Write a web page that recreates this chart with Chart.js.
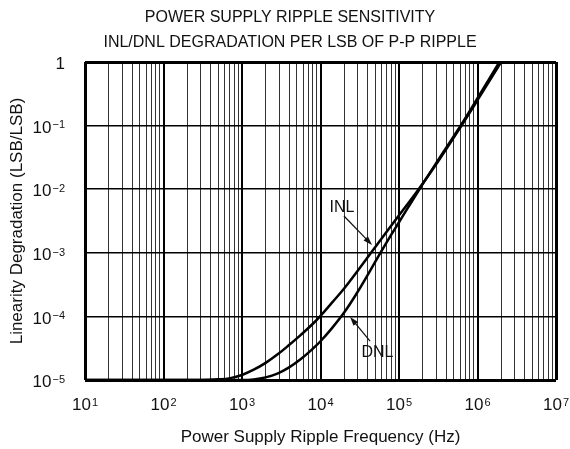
<!doctype html>
<html lang="en">
<head>
<meta charset="UTF-8">
<title>Power Supply Ripple Sensitivity</title>
<style>
  html, body { margin: 0; padding: 0; background: #fff; }
</style>
</head>
<body>
<canvas id="myChart" width="570" height="449"></canvas>
<script src="https://cdn.jsdelivr.net/npm/chart.js"></script>
<script>
// values (Hz -> LSB/LSB)
const inlFreq = [10, 100, 316, 500, 710, 1000, 1410, 2000, 2820, 3980, 5620, 7940, 1e4, 14100, 2e4, 28200, 41700, 63100, 1e5, 1.78e5, 3.16e5, 6.03e5, 1e6, 2e6];
const inlValues = [1e-5, 1e-5, 1e-5, 1.023e-5, 1.07e-5, 1.2e-5, 1.45e-5, 1.86e-5, 2.51e-5, 3.55e-5, 5.13e-5, 7.59e-5, 1.02e-4, 1.66e-4, 2.75e-4, 4.79e-4, 9.12e-4, 1.82e-3, 3.89e-3, 1.0e-2, 2.75e-2, 9.33e-2, 0.251, 1.0];
const dnlFreq = [10, 100, 1000, 1410, 2000, 2820, 3980, 5620, 7940, 1e4, 14100, 2e4, 28200, 39800, 56200, 79400, 1e5, 1.78e5, 3.16e5, 6.03e5, 1e6, 1.9e6];
const dnlValues = [1e-5, 1e-5, 1e-5, 1.023e-5, 1.1e-5, 1.26e-5, 1.58e-5, 2.14e-5, 3.09e-5, 4.07e-5, 6.61e-5, 1.15e-4, 2.19e-4, 4.47e-4, 9.33e-4, 1.91e-3, 3.02e-3, 9.55e-3, 2.88e-2, 9.77e-2, 0.269, 1.0];

// tick labels are 10^n
const xExponents = [1, 2, 3, 4, 5, 6, 7];
const yExponents = [-5, -4, -3, -2, -1, 0];
const minorSteps = [2, 3, 4, 5, 6, 7, 8, 9];

// callout labels with arrows, in data units
const callouts = [
    {text: 'INL', at: [1.88e4, 5.15e-3], from: [1.99e4, 3.79e-3], to: [4.53e4, 1.33e-3]},
    {text: 'DNL', at: [5.32e4, 2.66e-5], from: [4.28e4, 4.1e-5], to: [2.38e4, 9.8e-5]}
];

const FONT = 'Liberation Sans, Arial, Helvetica, sans-serif';
const INK = '#111';

function toPoints(xs, ys) {
    return xs.map((x, i) => ({x: x, y: ys[i]}));
}

function supLabel(e) {
    return e === 0 ? '' : String(e).replace('-', '\u2212');
}

// draws "10" with a raised exponent; align = 'center' or 'right'
function drawPower(ctx, px, py, e, align) {
    ctx.font = '17px ' + FONT;
    const base = e === 0 ? '1' : '10';
    const baseW = ctx.measureText(base).width;
    ctx.font = '11px ' + FONT;
    const exp = supLabel(e);
    const expW = exp ? ctx.measureText(exp).width + 1 : 0;
    const total = baseW + expW;
    let x0 = align === 'center' ? px - total / 2 : px - total;
    ctx.textAlign = 'left';
    ctx.textBaseline = 'alphabetic';
    ctx.font = '17px ' + FONT;
    ctx.fillText(base, x0, py + 6.1);
    if (exp) {
        ctx.font = '11px ' + FONT;
        ctx.fillText(exp, x0 + baseW + 1, py + 1.8);
    }
}

const powerTicks = {
    id: 'powerTicks',
    afterDraw(chart) {
        const ctx = chart.ctx;
        const x = chart.scales.x, y = chart.scales.y;
        ctx.save();
        ctx.fillStyle = INK;
        xExponents.forEach(e => drawPower(ctx, x.getPixelForValue(Math.pow(10, e)), 404, e, 'center'));
        yExponents.forEach(e => drawPower(ctx, x.left - 20, y.getPixelForValue(Math.pow(10, e)) + 1, e, 'right'));
        ctx.restore();
    }
};

const arrows = {
    id: 'arrows',
    afterDatasetsDraw(chart) {
        const ctx = chart.ctx;
        const x = chart.scales.x, y = chart.scales.y;
        ctx.save();
        ctx.fillStyle = INK;
        ctx.strokeStyle = INK;
        ctx.font = '16px ' + FONT;
        ctx.textAlign = 'center';
        ctx.textBaseline = 'middle';
        callouts.forEach(c => {
            ctx.fillText(c.text, x.getPixelForValue(c.at[0]), y.getPixelForValue(c.at[1]));
            const x1 = x.getPixelForValue(c.from[0]), y1 = y.getPixelForValue(c.from[1]);
            const x2 = x.getPixelForValue(c.to[0]), y2 = y.getPixelForValue(c.to[1]);
            const a = Math.atan2(y2 - y1, x2 - x1);
            ctx.lineWidth = 1.2;
            ctx.beginPath();
            ctx.moveTo(x1, y1);
            ctx.lineTo(x2 - 6 * Math.cos(a), y2 - 6 * Math.sin(a));
            ctx.stroke();
            ctx.beginPath();
            ctx.moveTo(x2, y2);
            ctx.lineTo(x2 - 9 * Math.cos(a) + 3 * Math.sin(a), y2 - 9 * Math.sin(a) - 3 * Math.cos(a));
            ctx.lineTo(x2 - 9 * Math.cos(a) - 3 * Math.sin(a), y2 - 9 * Math.sin(a) + 3 * Math.cos(a));
            ctx.closePath();
            ctx.fill();
        });
        ctx.restore();
    }
};

function edgeOr(ctx, edge, major, minor) {
    const last = ctx.scale.ticks.length - 1;
    if (ctx.index === 0 || ctx.index === last) return edge;
    return ctx.tick && ctx.tick.major ? major : minor;
}

const ctx = document.getElementById('myChart').getContext('2d');
const chart = new Chart(ctx, {
    type: 'line',
    data: {
        datasets: [{
            label: 'INL',
            data: toPoints(inlFreq, inlValues),
            borderColor: '#000',
            borderWidth: 2.5,
            pointRadius: 0,
            fill: false,
            tension: 0.4
        }, {
            label: 'DNL',
            data: toPoints(dnlFreq, dnlValues),
            borderColor: '#000',
            borderWidth: 2.5,
            pointRadius: 0,
            fill: false,
            tension: 0.4
        }]
    },
    options: {
        responsive: false,
        animation: false,
        devicePixelRatio: 1,
        layout: {padding: {left: 24, right: 14, top: 0, bottom: 0}},
        plugins: {
            legend: {display: false},
            tooltip: {enabled: false},
            title: {
                display: true,
                text: ['POWER SUPPLY RIPPLE SENSITIVITY', 'INL/DNL DEGRADATION PER LSB OF P-P RIPPLE'],
                color: INK,
                font: {family: FONT, size: 16, weight: 'normal', lineHeight: 25 / 16},
                padding: {top: 5.5, bottom: 6.5}
            }
        },
        scales: {
            x: {
                type: 'logarithmic',
                min: 10,
                max: 1e7,
                afterBuildTicks: scale => {
                    const t = [];
                    xExponents.forEach((e, i) => {
                        t.push({value: Math.pow(10, e), major: true});
                        if (i < xExponents.length - 1) {
                            minorSteps.forEach(m => t.push({value: m * Math.pow(10, e), major: false}));
                        }
                    });
                    scale.ticks = t;
                },
                ticks: {display: false},
                border: {display: false},
                grid: {
                    drawTicks: false,
                    lineWidth: c => edgeOr(c, 3, 2, 1),
                    color: c => edgeOr(c, '#000', '#000', '#333')
                },
                title: {
                    display: true,
                    text: 'Power Supply Ripple Frequency (Hz)',
                    color: INK,
                    font: {family: FONT, size: 17, lineHeight: 1.2},
                    padding: {top: 46.8, bottom: 1.8}
                }
            },
            y: {
                type: 'logarithmic',
                min: 1e-5,
                max: 1,
                afterBuildTicks: scale => {
                    scale.ticks = yExponents.map(e => ({value: Math.pow(10, e), major: true}));
                },
                ticks: {display: false},
                border: {display: false},
                grid: {
                    drawTicks: false,
                    lineWidth: c => edgeOr(c, 3, 1.5, 1.5),
                    color: '#000'
                },
                title: {
                    display: true,
                    text: 'Linearity Degradation (LSB/LSB)',
                    color: INK,
                    font: {family: FONT, size: 17, lineHeight: 1.2},
                    padding: {top: -17, bottom: 57.6}
                }
            }
        }
    },
    plugins: [powerTicks, arrows]
});
</script>
</body>
</html>
